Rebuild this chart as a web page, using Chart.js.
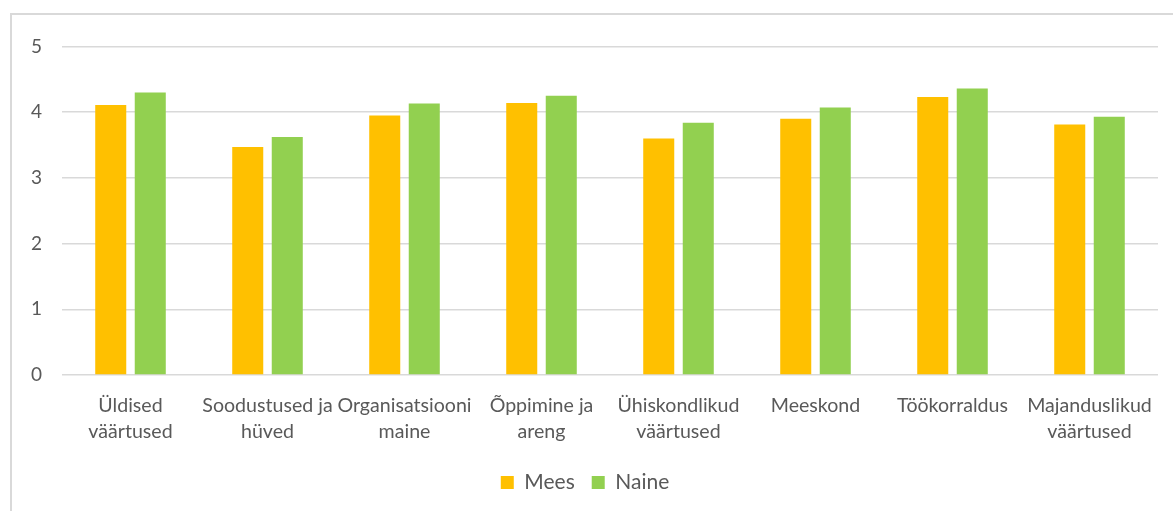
<!DOCTYPE html>
<html>
<head>
<meta charset="utf-8">
<script src="https://cdn.jsdelivr.net/npm/chart.js@4"></script>
<style>
    body { margin: 0; background: #fff; }
    .frame {
        position: absolute;
        left: 10px;
        top: 13px;
        width: 1163px;
        height: 498px;
        border-left: 2px solid #d9d9d9;
        border-top: 2px solid #d9d9d9;
        box-sizing: border-box;
    }
    .frame canvas { display: block; }
</style>
</head>
<body>
<div class="frame">
    <canvas id="genderChart" width="1161" height="496"></canvas>
</div>
<script>
/* ======================================
        Data
====================================== */

const categories = [
    ["Üldised", "väärtused"],
    ["Soodustused ja", "hüved"],
    ["Organisatsiooni", "maine"],
    ["Õppimine ja", "areng"],
    ["Ühiskondlikud", "väärtused"],
    "Meeskond",
    "Töökorraldus",
    ["Majanduslikud", "väärtused"]
];

const meesValues  = [4.11, 3.47, 3.95, 4.14, 3.60, 3.90, 4.23, 3.81];
const naineValues = [4.30, 3.62, 4.13, 4.25, 3.84, 4.07, 4.36, 3.93];

const yTicks = [0, 1, 2, 3, 4, 5];

/* ======================================
        Chart
====================================== */

const textColor = "#595959";
const gridColor = "#d9d9d9";
const fontFamily = "Lato, 'Open Sans', sans-serif";

new Chart(document.getElementById("genderChart"), {

    type: "bar",

    data: {
        labels: categories,
        datasets: [
            {
                label: "Mees",
                data: meesValues,
                backgroundColor: "#FFC000",
                barPercentage: 0.785,
                categoryPercentage: 0.577
            },
            {
                label: "Naine",
                data: naineValues,
                backgroundColor: "#92D050",
                barPercentage: 0.785,
                categoryPercentage: 0.577
            }
        ]
    },

    options: {
        responsive: false,
        animation: false,
        layout: {
            padding: { top: 28, right: 15, left: 0, bottom: 8 }
        },
        plugins: {
            tooltip: { enabled: false },
            legend: {
                position: "bottom",
                labels: {
                    color: textColor,
                    font: { family: fontFamily, size: 21 },
                    boxWidth: 13,
                    boxHeight: 13,
                    padding: 17
                }
            }
        },
        scales: {
            x: {
                grid: { display: false },
                border: { display: false },
                ticks: {
                    color: textColor,
                    font: { family: fontFamily, size: 19.6, lineHeight: 1.33 },
                    maxRotation: 0,
                    autoSkip: false,
                    padding: 10
                },
                afterFit: scale => { scale.height = 80; }
            },
            y: {
                min: 0,
                max: 5,
                afterBuildTicks: scale => {
                    scale.ticks = yTicks.map(v => ({ value: v }));
                },
                grid: {
                    color: gridColor,
                    lineWidth: 1.5,
                    drawTicks: false
                },
                border: { display: false },
                ticks: {
                    color: textColor,
                    font: { family: fontFamily, size: 19 },
                    padding: 20
                },
                afterFit: scale => { scale.width = 50; }
            }
        }
    }

});
</script>
</body>
</html>
